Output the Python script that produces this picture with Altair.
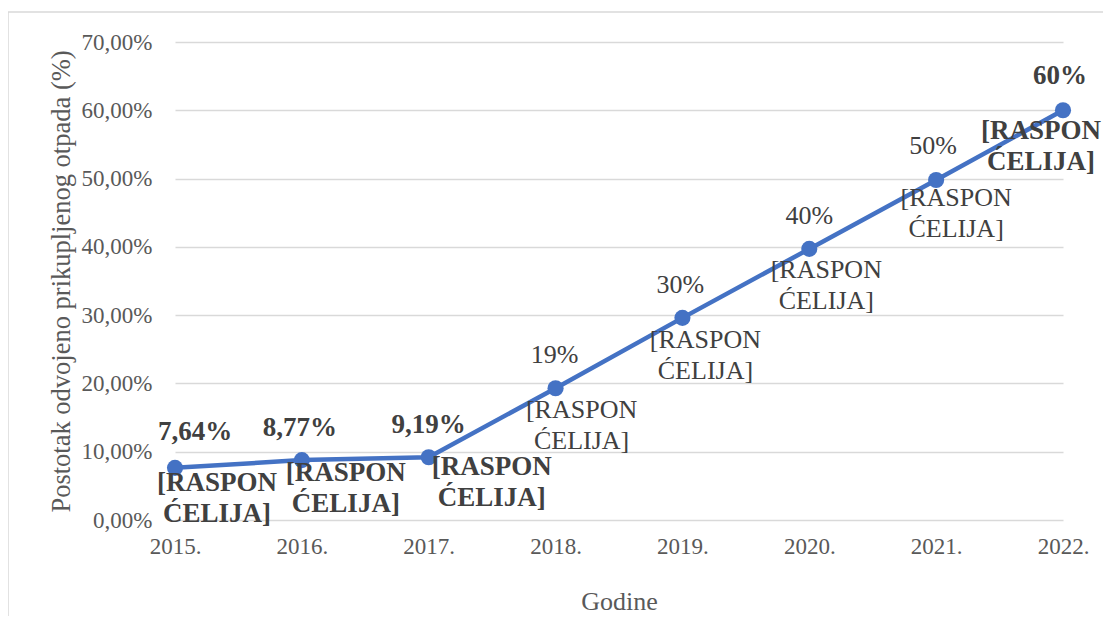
import altair as alt
import pandas as pd

years = ["2015.", "2016.", "2017.", "2018.", "2019.", "2020.", "2021.", "2022."]
values = [0.0764, 0.0877, 0.0919, 0.193, 0.296, 0.397, 0.498, 0.600]
value_labels = ["7,64%", "8,77%", "9,19%", "19%", "30%", "40%", "50%", "60%"]
bold_flags = [True, True, True, False, False, False, False, True]
cell_line1 = ["[RASPON"] * 8
cell_line2 = ["ĆELIJA]"] * 8
y_ticks = [0.0, 0.1, 0.2, 0.3, 0.4, 0.5, 0.6, 0.7]

df = pd.DataFrame({
    "year": years,
    "value": values,
    "vlabel": value_labels,
    "c1": cell_line1,
    "c2": cell_line2,
})

FONT = "Liberation Serif"
AXIS_COLOR = "#595959"
LABEL_COLOR = "#404040"
LINE_COLOR = "#4472C4"

x_enc = alt.X(
    "year:O",
    sort=years,
    scale=alt.Scale(type="point", padding=0),
    axis=alt.Axis(
        title="Godine", titleFont=FONT, titleFontSize=26, titleFontWeight="normal",
        titleColor=AXIS_COLOR, titlePadding=30,
        labelFont=FONT, labelFontSize=23, labelColor=AXIS_COLOR, labelAngle=0,
        labelPadding=15, ticks=False, domain=False, grid=False,
    ),
)
y_enc = alt.Y(
    "value:Q",
    scale=alt.Scale(domain=[0, 0.7], nice=False),
    axis=alt.Axis(
        values=y_ticks,
        labelExpr="replace(format(datum.value, '.2%'), '.', ',')",
        title="Postotak odvojeno prikupljenog otpada (%)",
        titleFont=FONT, titleFontSize=26.5, titleFontWeight="normal",
        titleColor=AXIS_COLOR, titlePadding=6,
        labelFont=FONT, labelFontSize=23, labelColor=AXIS_COLOR,
        labelPadding=23, ticks=False, domain=False,
        grid=True, gridColor="#d9d9d9", gridWidth=1.5,
    ),
)

base = alt.Chart(df)

border = alt.Chart(pd.DataFrame({"a": [0]})).mark_rect(
    filled=False, stroke="#d9d9d9", strokeWidth=1.5, clip=False
).encode(
    x=alt.value(-167), x2=alt.value(960), y=alt.value(-30), y2=alt.value(620)
)

line = base.mark_line(color=LINE_COLOR, strokeWidth=4.5).encode(x=x_enc, y=y_enc)
points = base.mark_point(filled=True, color=LINE_COLOR, size=260, opacity=1).encode(x=x_enc, y=y_enc)

top_offsets = [(20, -36), (-2, -32), (0, -32), (-1, -33), (-2, -33), (0, -33), (-3, -34), (-3, -34)]
below_offsets = [(42, 15), (44, 13), (63, 10), (26, 22), (23, 22), (17, 21), (20, 18), (-22, 21)]
LINE_GAP = 31

layers = [border, line, points]
for i, yr in enumerate(years):
    b = bold_flags[i]
    weight = "bold" if b else "normal"
    fs = 27 if b else 26
    sub = base.transform_filter(alt.datum.year == yr)
    tdx, tdy = top_offsets[i]
    bdx, bdy = below_offsets[i]
    common = dict(font=FONT, fontSize=fs, fontWeight=weight, color=LABEL_COLOR,
                  align="center", baseline="middle")
    layers.append(sub.mark_text(dx=tdx, dy=tdy, **common).encode(x=x_enc, y=y_enc, text="vlabel:N"))
    layers.append(sub.mark_text(dx=bdx, dy=bdy, **common).encode(x=x_enc, y=y_enc, text="c1:N"))
    layers.append(sub.mark_text(dx=bdx, dy=bdy + LINE_GAP, **common).encode(x=x_enc, y=y_enc, text="c2:N"))

chart = alt.layer(*layers).properties(
    width=888,
    height=478,
    autosize=alt.AutoSizeParams(type="none"),
    padding={"left": 167, "top": 34, "right": 40, "bottom": 96},
    background="white",
).configure_view(stroke=None)

chart.save("out.html", embed_options={"renderer": "svg", "actions": False})
